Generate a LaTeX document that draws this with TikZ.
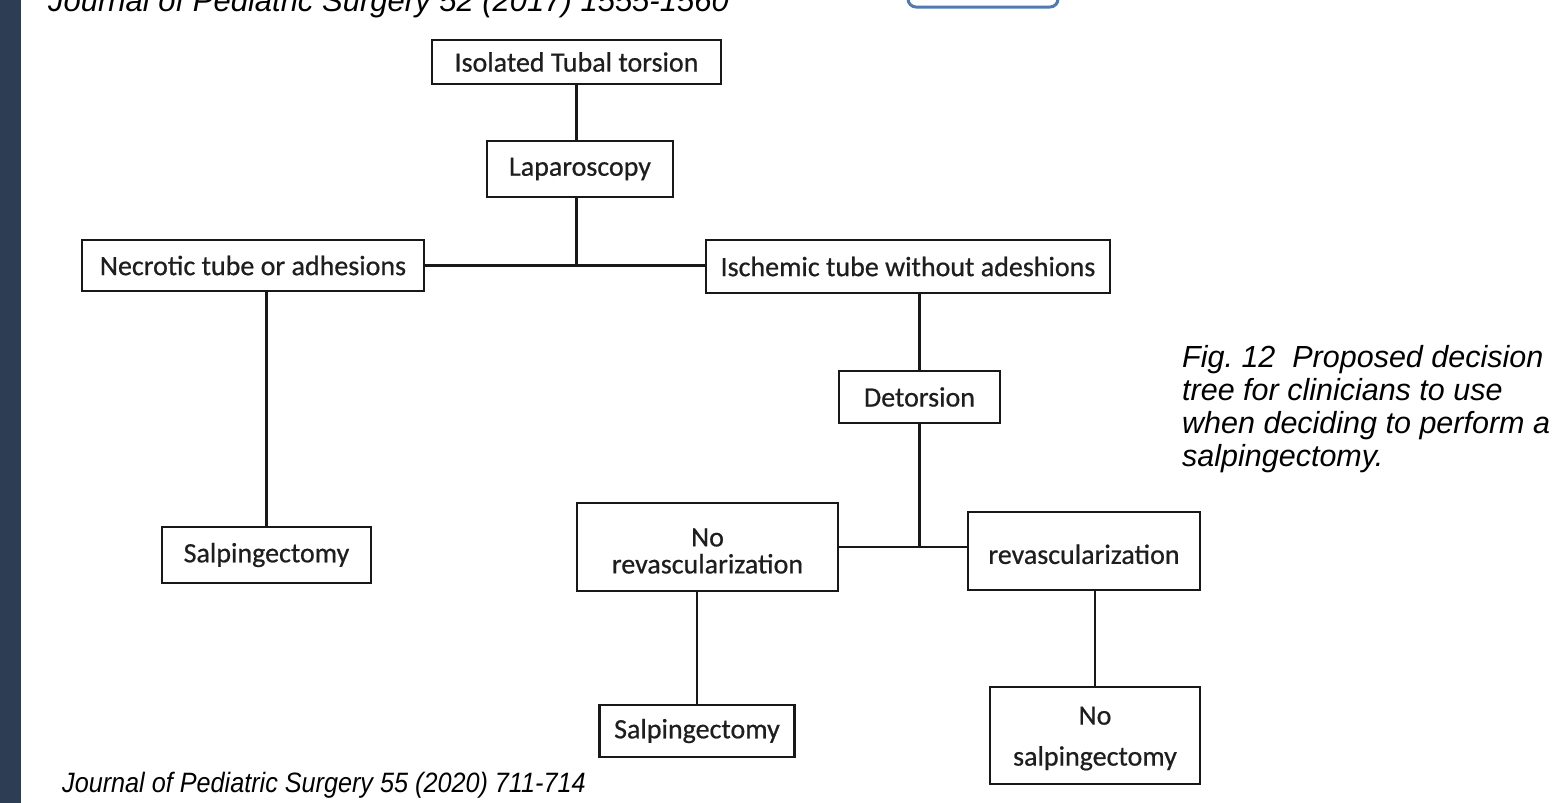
\documentclass[tikz,border=0pt]{standalone}
\usepackage{fontspec}
\setmainfont{Liberation Sans}
\newfontfamily\boxfont[FakeBold=0.6]{Carlito}
\newfontfamily\capfont{Liberation Sans}
\definecolor{barcol}{RGB}{45,62,84}
\definecolor{boxline}{RGB}{24,24,24}
\definecolor{boxtext}{RGB}{30,30,30}
\definecolor{bluebox}{RGB}{82,121,178}
\tikzset{
  flowbox/.style={draw=boxline, line width=2.8pt, fill=white, inner sep=0pt,
    font=\boxfont\fontsize{28}{28}\selectfont, text=boxtext, align=center},
  conn/.style={draw=boxline, line width=2.6pt},
  captext/.style={inner sep=0pt, text=black, font=\capfont\itshape}
}
\begin{document}
\begin{tikzpicture}[x=1pt,y=-1pt]
\useasboundingbox (0,0) rectangle (1561,803);
\clip (0,0) rectangle (1561,803);
\fill[white] (0,0) rectangle (1561,803);
\fill[barcol] (0,0) rectangle (21,803);
\draw[bluebox, line width=3pt, rounded corners=8pt] (908,-20) rectangle (1058,7);

% boxes
\node[flowbox, minimum width=289pt, minimum height=44pt] (iso) at (576.5,62) {Isolated Tubal torsion};
\node[flowbox, minimum width=186pt, minimum height=56pt] (lap) at (580,169) {Laparoscopy};
\node[flowbox, minimum width=342pt, minimum height=51pt] (nec) at (253,265.5) {Necrotic tube or adhesions};
\node[flowbox, minimum width=404pt, minimum height=53pt] (isch) at (908,266.5) {Ischemic tube without adeshions};
\node[flowbox, minimum width=209pt, minimum height=56pt] (salpL) at (266.5,555) {Salpingectomy};
\node[flowbox, minimum width=161pt, minimum height=52pt] (det) at (919.5,397) {Detorsion};
\node[flowbox, minimum width=261pt, minimum height=88pt] (norev) at (707.5,547) {\rule{0pt}{26pt}No\\[-1pt]revascularization};
\node[flowbox, minimum width=232pt, minimum height=78pt] (rev) at (1084,551) {\rule{0pt}{26pt}revascularization};
\node[flowbox, minimum width=195pt, minimum height=52pt] (salpB) at (697,731) {Salpingectomy};
\node[flowbox, minimum width=210pt, minimum height=97pt] (nosalp) at (1095,735.5) {\rule{0pt}{24pt}No\\[13pt]salpingectomy};

% connectors
\draw[conn] (iso.south) -- (iso.south |- lap.north);
\draw[conn] (iso.south |- lap.south) -- (iso.south |- nec.east);
\draw[conn] (nec.east) -- (nec.east -| isch.west);
\draw[conn] (salpL.north) -- (salpL.north |- nec.south);
\draw[conn] (det.north) -- (det.north |- isch.south);
\coordinate (j2) at (det.south |- norev.east);
\draw[conn] (det.south) -- (j2);
\draw[conn] (norev.east) -- (norev.east -| rev.west);
\draw[conn] (salpB.north) -- (salpB.north |- norev.south);
\draw[conn] (nosalp.north) -- (nosalp.north |- rev.south);

% texts
\node[captext, anchor=base west, font=\capfont\itshape\fontsize{31}{35}\selectfont] (toptxt) at (48,12) {Journal of Pediatric Surgery 52 (2017) 1555-1560};
\node[captext, anchor=base west, font=\capfont\itshape\fontsize{28}{32}\selectfont] (bottxt) at (62,792) {\scalebox{0.9}[1]{Journal of Pediatric Surgery 55 (2020) 711-714}};
\node[captext, anchor=north west, align=left, font=\capfont\itshape\fontsize{30.5}{33}\selectfont] (cap) at (1182,345) {Fig.~12~~Proposed decision\\tree for clinicians to use\\when deciding to perform a\\salpingectomy.};
\end{tikzpicture}
\end{document}
